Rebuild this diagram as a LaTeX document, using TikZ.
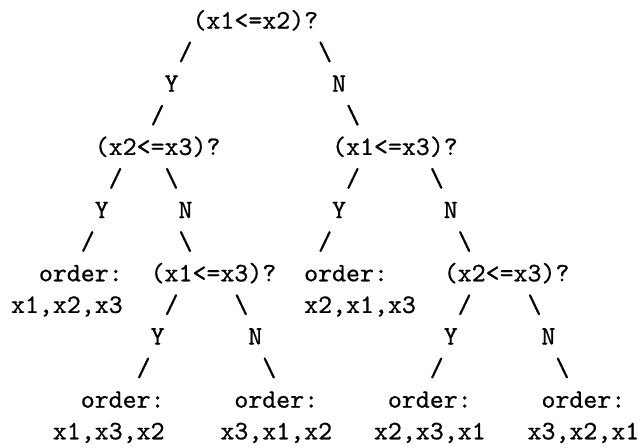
\documentclass[tikz,border=0pt]{standalone}
\usepackage{fontspec}
% typewriter face at its 10pt design, a little heavier
\newfontfamily\asciitt{lmmono10-regular}[Extension=.otf, FakeBold=0.6]
\newcommand\asciifont{\fontsize{26.6pt}{31.6pt}\selectfont\asciitt}
\newcommand\bsl{\textbackslash}
\tikzset{
  cell/.style={anchor=base west, inner sep=0pt, outer sep=0pt, font=\asciifont, text=black},
}
\begin{document}
\begin{tikzpicture}
  % page frame: 639 x 447
  \fill[white] (0pt,0pt) rectangle (639pt,-447pt);
  \useasboundingbox (0pt,0pt) rectangle (639pt,-447pt);
  % character grid: columns of 13.96pt, lines of 31.6pt
  \begin{scope}[shift={(11pt,-28.5pt)}, x=13.96pt, y=-31.6pt]
    % line 0
    \node[cell] (q0)   at (13,0) {(x1<=x2)?};
    % line 1
    \node[cell] (s1l)  at (12,1) {/};
    \node[cell] (s1r)  at (22,1) {\bsl};
    % line 2
    \node[cell] (y0)   at (11,2) {Y};
    \node[cell] (n0)   at (23,2) {N};
    % line 3
    \node[cell] (s3l)  at (10,3) {/};
    \node[cell] (s3r)  at (24,3) {\bsl};
    % line 4
    \node[cell] (qa)   at (6,4)  {(x2<=x3)?};
    \node[cell] (qb)   at (23,4) {(x1<=x3)?};
    % line 5
    \node[cell] (s5a)  at (7,5)  {/};
    \node[cell] (s5b)  at (11,5) {\bsl};
    \node[cell] (s5c)  at (24,5) {/};
    \node[cell] (s5d)  at (30,5) {\bsl};
    % line 6
    \node[cell] (ya)   at (6,6)  {Y};
    \node[cell] (na)   at (12,6) {N};
    \node[cell] (yb)   at (23,6) {Y};
    \node[cell] (nb)   at (31,6) {N};
    % line 7
    \node[cell] (s7a)  at (5,7)  {/};
    \node[cell] (s7b)  at (12,7) {\bsl};
    \node[cell] (s7c)  at (22,7) {/};
    \node[cell] (s7d)  at (32,7) {\bsl};
    % line 8
    \node[cell] (o1)   at (2,8)  {order:};
    \node[cell] (qc)   at (10,8) {(x1<=x3)?};
    \node[cell] (o2)   at (21,8) {order:};
    \node[cell] (qd)   at (31,8) {(x2<=x3)?};
    % line 9
    \node[cell] (r1)   at (0,9)  {x1,x2,x3};
    \node[cell] (s9a)  at (11,9) {/};
    \node[cell] (s9b)  at (16,9) {\bsl};
    \node[cell] (r2)   at (21,9) {x2,x1,x3};
    \node[cell] (s9c)  at (32,9) {/};
    \node[cell] (s9d)  at (37,9) {\bsl};
    % line 10
    \node[cell] (yc)   at (10,10) {Y};
    \node[cell] (nc)   at (17,10) {N};
    \node[cell] (yd)   at (31,10) {Y};
    \node[cell] (nd)   at (38,10) {N};
    % line 11
    \node[cell] (s11a) at (9,11)  {/};
    \node[cell] (s11b) at (18,11) {\bsl};
    \node[cell] (s11c) at (30,11) {/};
    \node[cell] (s11d) at (39,11) {\bsl};
    % line 12
    \node[cell] (o3)   at (5,12)  {order:};
    \node[cell] (o4)   at (16,12) {order:};
    \node[cell] (o5)   at (27,12) {order:};
    \node[cell] (o6)   at (38,12) {order:};
    % line 13
    \node[cell] (r3)   at (3,13)  {x1,x3,x2};
    \node[cell] (r4)   at (15,13) {x3,x1,x2};
    \node[cell] (r5)   at (26,13) {x2,x3,x1};
    \node[cell] (r6)   at (37,13) {x3,x2,x1};
  \end{scope}
\end{tikzpicture}
\end{document}
